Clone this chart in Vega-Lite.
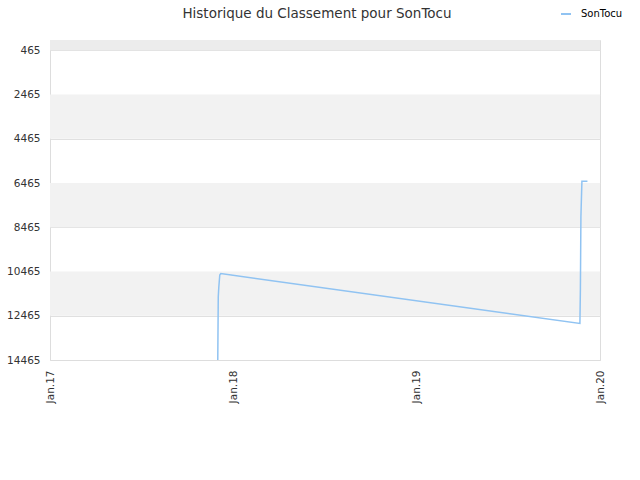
{
  "$schema": "https://vega.github.io/schema/vega-lite/v6.json",
  "autosize": "none",
  "width": 550,
  "height": 320,
  "padding": {"left": 50, "top": 40, "right": 40, "bottom": 120},
  "title": {
    "text": "Historique du Classement pour SonTocu",
    "anchor": "middle",
    "dx": -8,
    "dy": 32,
    "offset": 20,
    "font": "DejaVu Sans",
    "fontSize": 13.5,
    "fontWeight": "normal",
    "color": "#333333"
  },
  "config": {
    "font": "DejaVu Sans",
    "view": {"stroke": "#dddddd"}
  },
  "datasets": {
    "bands": [
      {"top": 0, "bottom": 465, "shade": "a"},
      {"top": 2465, "bottom": 4465, "shade": "b"},
      {"top": 6465, "bottom": 8465, "shade": "b"},
      {"top": 10465, "bottom": 12465, "shade": "b"}
    ],
    "ranks": [
      {"date": "2017-12-01", "rank": 14465, "player": "SonTocu"},
      {"date": "2017-12-02", "rank": 11620, "player": "SonTocu"},
      {"date": "2017-12-03", "rank": 11200, "player": "SonTocu"},
      {"date": "2017-12-05", "rank": 10620, "player": "SonTocu"},
      {"date": "2017-12-07", "rank": 10560, "player": "SonTocu"},
      {"date": "2019-11-22", "rank": 12810, "player": "SonTocu"},
      {"date": "2019-11-23", "rank": 11210, "player": "SonTocu"},
      {"date": "2019-11-24", "rank": 7990, "player": "SonTocu"},
      {"date": "2019-11-26", "rank": 6380, "player": "SonTocu"},
      {"date": "2019-12-07", "rank": 6380, "player": "SonTocu"}
    ]
  },
  "layer": [
    {
      "data": {"name": "bands"},
      "mark": {"type": "rect"},
      "encoding": {
        "y": {
          "field": "top",
          "type": "quantitative",
          "scale": {"domain": [0, 14465], "reverse": true, "nice": false, "zero": false},
          "axis": {
            "values": [465, 2465, 4465, 6465, 8465, 10465, 12465, 14465],
            "format": "d",
            "title": null,
            "grid": true,
            "gridColor": "#e0e0e0",
            "domain": false,
            "ticks": false,
            "labelPadding": 10,
            "labelFontSize": 10.5,
            "labelColor": "#333333"
          }
        },
        "y2": {"field": "bottom"},
        "fill": {
          "condition": {"test": "datum.shade == 'a'", "value": "#ececec"},
          "value": "#f2f2f2"
        }
      }
    },
    {
      "data": {"name": "ranks"},
      "mark": {"type": "line", "strokeWidth": 1.5, "clip": true},
      "encoding": {
        "x": {
          "field": "date",
          "type": "temporal",
          "scale": {
            "type": "utc",
            "domain": [
              {"year": 2017, "month": 1, "date": 1, "utc": true},
              {"year": 2020, "month": 1, "date": 1, "utc": true}
            ]
          },
          "axis": {
            "values": [
              {"year": 2017, "month": 1, "date": 1, "utc": true},
              {"year": 2018, "month": 1, "date": 1, "utc": true},
              {"year": 2019, "month": 1, "date": 1, "utc": true},
              {"year": 2020, "month": 1, "date": 1, "utc": true}
            ],
            "labelExpr": "'Jan.' + utcFormat(datum.value, '%y')",
            "labelAngle": -90,
            "labelAlign": "right",
            "labelBaseline": "middle",
            "labelPadding": 10,
            "labelFontSize": 10.5,
            "labelColor": "#333333",
            "title": null,
            "grid": false,
            "domainColor": "#dddddd",
            "ticks": false
          }
        },
        "y": {"field": "rank", "type": "quantitative"},
        "color": {
          "field": "player",
          "type": "nominal",
          "scale": {"range": ["#90c3f2"]},
          "legend": {
            "title": null,
            "orient": "none",
            "legendX": 510,
            "legendY": -32,
            "symbolType": "stroke",
            "symbolStrokeWidth": 2,
            "symbolSize": 100,
            "labelOffset": 9,
            "labelFontSize": 10,
            "labelColor": "#000000"
          }
        }
      }
    }
  ]
}
